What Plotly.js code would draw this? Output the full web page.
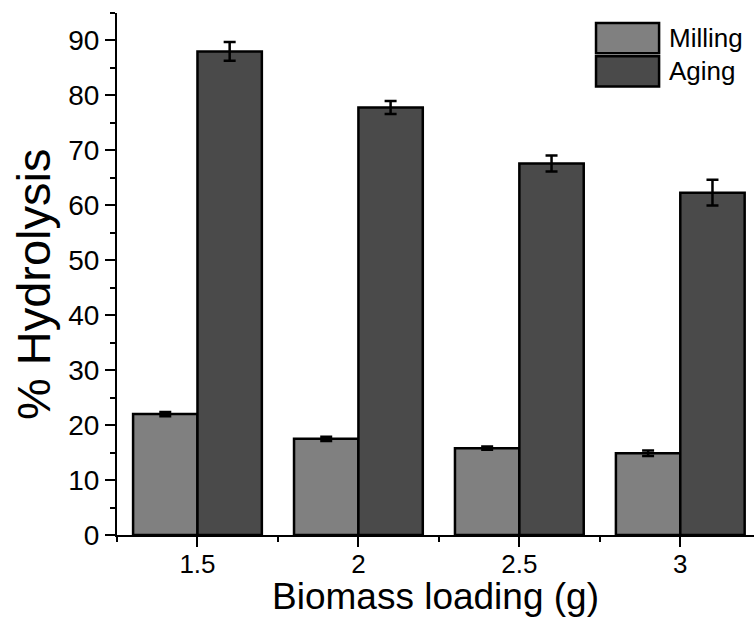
<!DOCTYPE html>
<html>
<head>
<meta charset="utf-8">
<script src="https://cdn.plot.ly/plotly-3.0.1.min.js"></script>
<style>html,body{margin:0;padding:0;background:#fff;}#chart{width:754px;height:626px;}</style>
</head>
<body>
<div id="chart"></div>
<script>
// Data
const loading = [1.5, 2, 2.5, 3];
const tickLabels = ['1.5', '2', '2.5', '3'];
const milling = [22.0, 17.5, 15.8, 14.9];
const millingErr = [0.4, 0.4, 0.3, 0.5];
const aging = [88.0, 77.8, 67.6, 62.3];
const agingErr = [1.7, 1.2, 1.45, 2.35];
const seriesNames = ['Milling', 'Aging'];
const seriesColors = ['#808080', '#4a4a4a'];
const xTitle = 'Biomass loading (g)';
const yTitle = '% Hydrolysis';

const FONT = 'Arial, "Liberation Sans", sans-serif';

const traces = [
  {
    type: 'bar', name: seriesNames[0], x: loading, y: milling,
    marker: {color: seriesColors[0], line: {color: '#000', width: 2.5}},
    error_y: {type: 'data', array: millingErr, visible: true, color: '#000', thickness: 2.5, width: 6},
    showlegend: false
  },
  {
    type: 'bar', name: seriesNames[1], x: loading, y: aging,
    marker: {color: seriesColors[1], line: {color: '#000', width: 2.5}},
    error_y: {type: 'data', array: agingErr, visible: true, color: '#000', thickness: 2.5, width: 6},
    showlegend: false
  }
];

// Hand-drawn legend (large swatches as in the reference)
const legX0 = 0.752, legX1 = 0.851, legTextX = 0.863;
const legRows = [[0.923, 0.981], [0.859, 0.917]];
const shapes = [];
const annotations = [];
seriesNames.forEach((n, i) => {
  shapes.push({type: 'rect', xref: 'paper', yref: 'paper', x0: legX0, x1: legX1,
    y0: legRows[i][0], y1: legRows[i][1], fillcolor: seriesColors[i], line: {color: '#000', width: 2.5}});
  annotations.push({xref: 'paper', yref: 'paper', x: legTextX, y: (legRows[i][0] + legRows[i][1]) / 2,
    xanchor: 'left', yanchor: 'middle', text: n, showarrow: false, font: {family: FONT, size: 26, color: '#000'}});
});
// Axis titles
annotations.push({xref: 'paper', yref: 'paper', x: 0.5, y: -0.118, xanchor: 'center', yanchor: 'middle',
  text: xTitle, showarrow: false, font: {family: FONT, size: 37, color: '#000'}});
annotations.push({xref: 'paper', yref: 'paper', x: -0.13, y: 0.481, xanchor: 'center', yanchor: 'middle',
  textangle: -90, text: yTitle, showarrow: false, font: {family: FONT, size: 47, color: '#000'}});

const layout = {
  width: 754, height: 626,
  margin: {l: 117, r: 0, t: 13, b: 91},
  paper_bgcolor: '#fff', plot_bgcolor: '#fff',
  barmode: 'group', bargap: 0.2, bargroupgap: 0,
  font: {family: FONT, color: '#000'},
  xaxis: {
    range: [1.25, 3.229], tickmode: 'array', tickvals: loading, ticktext: tickLabels,
    ticks: 'outside', ticklen: 10, tickwidth: 2, tickcolor: '#000', ticklabelstandoff: -5,
    minor: {tickmode: 'array', tickvals: [1.25, 1.75, 2.25, 2.75, 3.25], ticks: 'outside', ticklen: 5, tickwidth: 2, tickcolor: '#000'},
    showline: true, linecolor: '#000', linewidth: 2, showgrid: false, zeroline: false,
    tickfont: {family: FONT, size: 26, color: '#000'}
  },
  yaxis: {
    range: [0, 95], tickmode: 'linear', tick0: 0, dtick: 10,
    ticks: 'outside', ticklen: 10, tickwidth: 2, tickcolor: '#000',
    minor: {tick0: 0, dtick: 5, ticks: 'outside', ticklen: 5, tickwidth: 2, tickcolor: '#000'},
    showline: true, linecolor: '#000', linewidth: 2, showgrid: false, zeroline: false,
    tickfont: {family: FONT, size: 28, color: '#000'}
  },
  shapes: shapes,
  annotations: annotations
};

Plotly.newPlot('chart', traces, layout, {displayModeBar: false, staticPlot: true});
</script>
</body>
</html>
